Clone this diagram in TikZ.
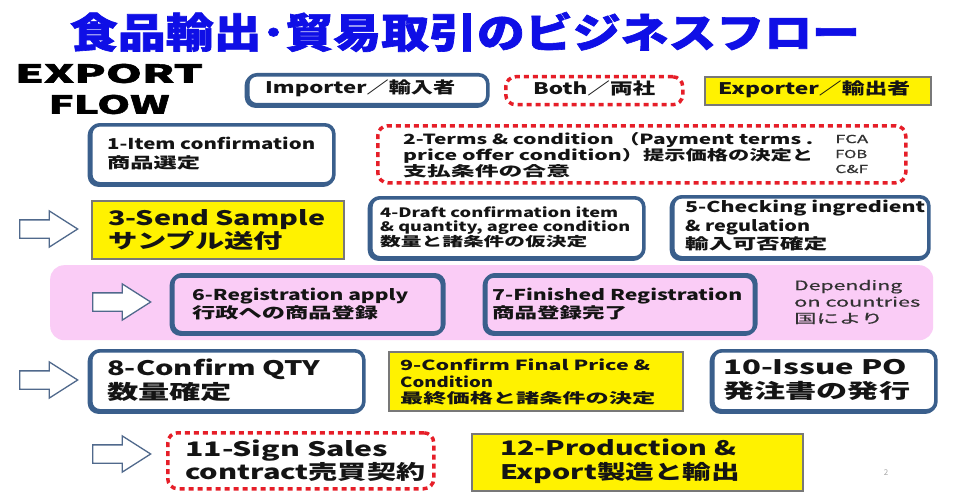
\documentclass[tikz,border=0pt]{standalone}
\usepackage{fontspec}
\setmainfont{Noto Sans CJK JP}
\newfontfamily\heavy{Noto Sans CJK JP}[FakeBold=1.5]
\newfontfamily\semi{Noto Sans CJK JP}[FakeBold=0.6]
\usetikzlibrary{shapes.arrows}
\definecolor{titleblue}{RGB}{15,15,230}
\definecolor{boxblue}{RGB}{58,95,140}
\definecolor{dotred}{RGB}{230,30,40}
\definecolor{ygray}{RGB}{120,120,120}
\definecolor{pinkbg}{RGB}{250,204,246}
\definecolor{arrowblue}{RGB}{80,105,140}
\definecolor{txtgray}{RGB}{50,50,50}
\newsavebox\fitbox
\newlength\fitlen
\newcommand\fitto[2]{\sbox\fitbox{#2}\setlength\fitlen{\wd\fitbox}\pgfmathsetmacro\fitr{#1/\fitlen}\scalebox{\fitr}[1]{\usebox\fitbox}}
\tikzset{
  bluebox/.style={draw=boxblue, line width=3.6pt, rounded corners=9pt, fill=white, inner sep=0pt, anchor=north west,
    preaction={draw=boxblue, line width=3.6pt, transform canvas={xshift=-1.3pt,yshift=-1.3pt}}},
  redbox/.style={draw=dotred, line width=3.5pt, dash pattern=on 5pt off 4pt, rounded corners=10pt, inner sep=0pt, anchor=north west},
  yelbox/.style={draw=ygray, line width=2pt, fill=yellow, inner sep=0pt, anchor=north west},
  pinkband/.style={fill=pinkbg, rounded corners=14pt, inner sep=0pt, anchor=north west},
  flowarrow/.style={single arrow, draw=arrowblue, fill=white, line width=1.3pt, minimum height=58pt, inner xsep=0pt, inner ysep=8.5pt, single arrow head extend=9pt, single arrow tip angle=65, anchor=west},
  txt/.style={inner sep=0pt, anchor=west, align=left, text=black!92},
}
\begin{document}
\begin{tikzpicture}[x=1pt,y=-1pt]
\fill[white] (0,0) rectangle (960,500);
\useasboundingbox (0,0) rectangle (960,500);

% title
\node[inner sep=0pt, text=titleblue, font=\heavy\bfseries\fontsize{41}{41}\selectfont] (title) at (465,32) {\fitto{790}{食品輸出･貿易取引のビジネスフロー}};
\node[inner sep=0pt, align=center, font=\heavy\bfseries\fontsize{25}{31}\selectfont] (flow) at (109,89) {\fitto{188}{EXPORT}\\\fitto{121}{FLOW}};

% legend
\node[bluebox, minimum width=240pt, minimum height=30pt] (limp) at (246,73) {};
\node[txt, font=\bfseries\fontsize{16}{18}\selectfont] (timp) at (265,88) {\fitto{190}{Importer／輸入者}};
\node[redbox, minimum width=177pt, minimum height=28pt] (lboth) at (504,75) {};
\node[txt, font=\bfseries\fontsize{16}{18}\selectfont] (tboth) at (533,88) {\fitto{122}{Both／両社}};
\node[yelbox, minimum width=226pt, minimum height=28pt] (lexp) at (704,76) {};
\node[txt, font=\bfseries\fontsize{16}{18}\selectfont] (texp) at (718,89) {\fitto{192}{Exporter／輸出者}};

% row 1
\node[bluebox, minimum width=243pt, minimum height=59pt] (b1) at (89,123) {};
\node[txt, font=\bfseries\fontsize{15}{19}\selectfont] (t1) at (107,154) {\fitto{208}{1-Item confirmation}\\\fitto{93}{商品選定}};
\node[redbox, minimum width=528pt, minimum height=57pt] (b2) at (376,124) {};
\node[txt, font=\bfseries\fontsize{14}{16.3}\selectfont] (t2) at (403,155) {\fitto{410}{2-Terms \& condition （Payment terms .}\\\fitto{410}{price offer condition）提示価格の決定と}\\\fitto{167}{支払条件の合意}};
\node[txt, text=txtgray, font=\semi\fontsize{11}{15}\selectfont] (tinc) at (835,154) {\fitto{33}{FCA}\\\fitto{32}{FOB}\\\fitto{33}{C\&F}};

% row 2
\node[flowarrow] (a1) at (19,229) {};
\node[yelbox, minimum width=252pt, minimum height=58pt] (b3) at (91,200) {};
\node[txt, font=\bfseries\fontsize{20}{23}\selectfont] (t3) at (108,230) {\fitto{217}{3-Send Sample}\\\fitto{175}{サンプル送付}};
\node[bluebox, minimum width=273pt, minimum height=60pt] (b4) at (369,196) {};
\node[txt, font=\bfseries\fontsize{13}{14.5}\selectfont] (t4) at (380,227) {\fitto{238}{4-Draft confirmation item}\\\fitto{250}{\& quantity, agree condition}\\\fitto{207}{数量と諸条件の仮決定}};
\node[bluebox, minimum width=256pt, minimum height=61pt] (b5) at (671,195) {};
\node[txt, font=\bfseries\fontsize{15}{18.5}\selectfont] (t5) at (685,226) {\fitto{240}{5-Checking ingredient}\\\fitto{125}{\& regulation}\\\fitto{142}{輸入可否確定}};

% row 3 (pink band)
\node[pinkband, minimum width=883pt, minimum height=75pt] (band) at (50,265) {};
\node[flowarrow] (a2) at (92,302) {};
\node[bluebox, fill=none, minimum width=271pt, minimum height=58pt] (b6) at (171,273) {};
\node[txt, font=\bfseries\fontsize{15}{18}\selectfont] (t6) at (192,304) {\fitto{216}{6-Registration apply}\\\fitto{186}{行政への商品登録}};
\node[bluebox, fill=none, minimum width=270pt, minimum height=58pt] (b7) at (484,273) {};
\node[txt, font=\bfseries\fontsize{15}{18}\selectfont] (t7) at (492,304) {\fitto{250}{7-Finished Registration}\\\fitto{135}{商品登録完了}};
\node[txt, text=txtgray, font=\semi\fontsize{13}{16.5}\selectfont] (tdep) at (794,302) {\fitto{108}{Depending}\\\fitto{126}{on countries}\\\fitto{89}{国により}};

% row 4
\node[flowarrow] (a3) at (19,380) {};
\node[bluebox, minimum width=273pt, minimum height=60pt] (b8) at (89,349) {};
\node[txt, font=\bfseries\fontsize{20}{24}\selectfont] (t8) at (107,380) {\fitto{213}{8-Confirm QTY}\\\fitto{125}{数量確定}};
\node[yelbox, minimum width=294pt, minimum height=59pt] (b9) at (388,351) {};
\node[txt, font=\bfseries\fontsize{14}{16.5}\selectfont] (t9) at (400,382) {\fitto{250}{9-Confirm Final Price \&}\\\fitto{93}{Condition}\\\fitto{255}{最終価格と諸条件の決定}};
\node[bluebox, minimum width=223pt, minimum height=60pt] (b10) at (711,349) {};
\node[txt, font=\bfseries\fontsize{20}{24}\selectfont] (t10) at (723,380) {\fitto{184}{10-Issue PO}\\\fitto{187}{発注書の発行}};

% row 5
\node[flowarrow] (a4) at (92,454) {};
\node[redbox, minimum width=266pt, minimum height=56pt] (b11) at (166,431) {};
\node[txt, font=\bfseries\fontsize{20}{23}\selectfont] (t11) at (185,461) {\fitto{203}{11-Sign Sales}\\\fitto{240}{contract売買契約}};
\node[yelbox, minimum width=331pt, minimum height=57pt] (b12) at (471,433) {};
\node[txt, font=\bfseries\fontsize{20}{24}\selectfont] (t12) at (500,461) {\fitto{236}{12-Production \&}\\\fitto{240}{Export製造と輸出}};

\node[inner sep=0pt, text=black!35, font=\fontsize{8}{8}\selectfont] (pg) at (886,473) {2};
\end{tikzpicture}
\end{document}
